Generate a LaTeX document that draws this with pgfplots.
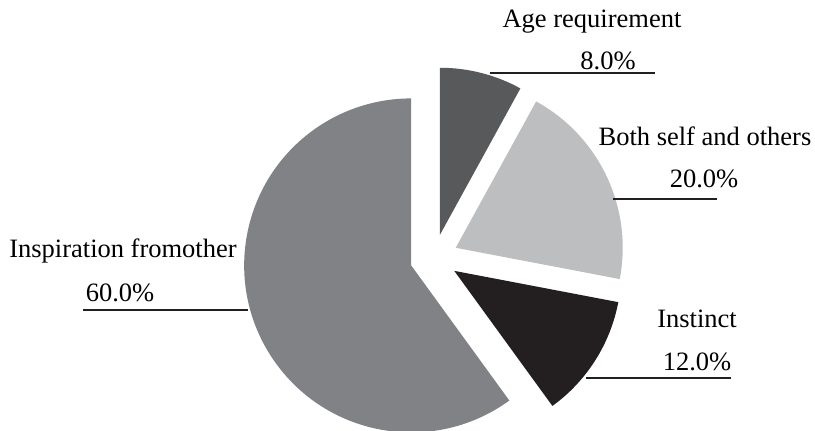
\documentclass[border=0pt]{standalone}
\usepackage{fontspec}
\setmainfont{Liberation Serif}
\usepackage{pgfplots}
\pgfplotsset{compat=1.18}

\definecolor{agecol}{HTML}{58595B}
\definecolor{bothcol}{HTML}{BCBEC0}
\definecolor{instcol}{HTML}{231F20}
\definecolor{inspcol}{HTML}{808285}
\definecolor{leadcol}{HTML}{231F20}

\tikzset{
  lbl/.style={anchor=base, inner sep=0pt, font=\fontsize{26.5}{30}\selectfont},
  lead/.style={leadcol, line width=1.8pt}
}

\begin{document}
\begin{tikzpicture}
\begin{axis}[%
name=pie,
width=815pt,
height=431pt,
scale only axis,
xmin=0, xmax=815,
ymin=0, ymax=431,
enlargelimits=false,
hide axis,
clip=false
]

% shares in percent, clockwise from 12 o'clock, each slice pulled out by 24
\pgfplotsextra{
  \gdef\startang{90}
  \foreach \v/\col in {8/agecol, 20/bothcol, 12/instcol, 60/inspcol}{
    \pgfmathsetmacro\s{\startang}
    \pgfmathsetmacro\e{\s-3.6*\v}
    \pgfmathsetmacro\m{(\s+\e)/2}
    \pgfmathsetmacro\ox{434+24*cos(\m)}
    \pgfmathsetmacro\oy{173+24*sin(\m)}
    \fill[\col] (axis cs:\ox,\oy) -- ++(\s:167pt)
      arc[start angle=\s, end angle=\e, radius=167pt] -- cycle;
    \xdef\startang{\e}
  }
}

% labels
\draw[lead] (axis cs:490,358) -- (axis cs:655,358);
\node[lbl] at (axis cs:592,403) {Age requirement};
\node[lbl] at (axis cs:608,361) {8.0\%};

\draw[lead] (axis cs:613,232) -- (axis cs:717,232);
\node[lbl] at (axis cs:705,285) {Both self and others};
\node[lbl] at (axis cs:704,243) {20.0\%};

\draw[lead] (axis cs:586,53) -- (axis cs:731,53);
\node[lbl] at (axis cs:697,103) {Instinct};
\node[lbl] at (axis cs:697,60) {12.0\%};

\draw[lead] (axis cs:83,121) -- (axis cs:248,121);
\node[lbl] at (axis cs:123,173) {Inspiration fromother};
\node[lbl] at (axis cs:120,129) {60.0\%};

\end{axis}
\pgfresetboundingbox
\path[use as bounding box] (pie.south west) rectangle (pie.north east);
\end{tikzpicture}
\end{document}
